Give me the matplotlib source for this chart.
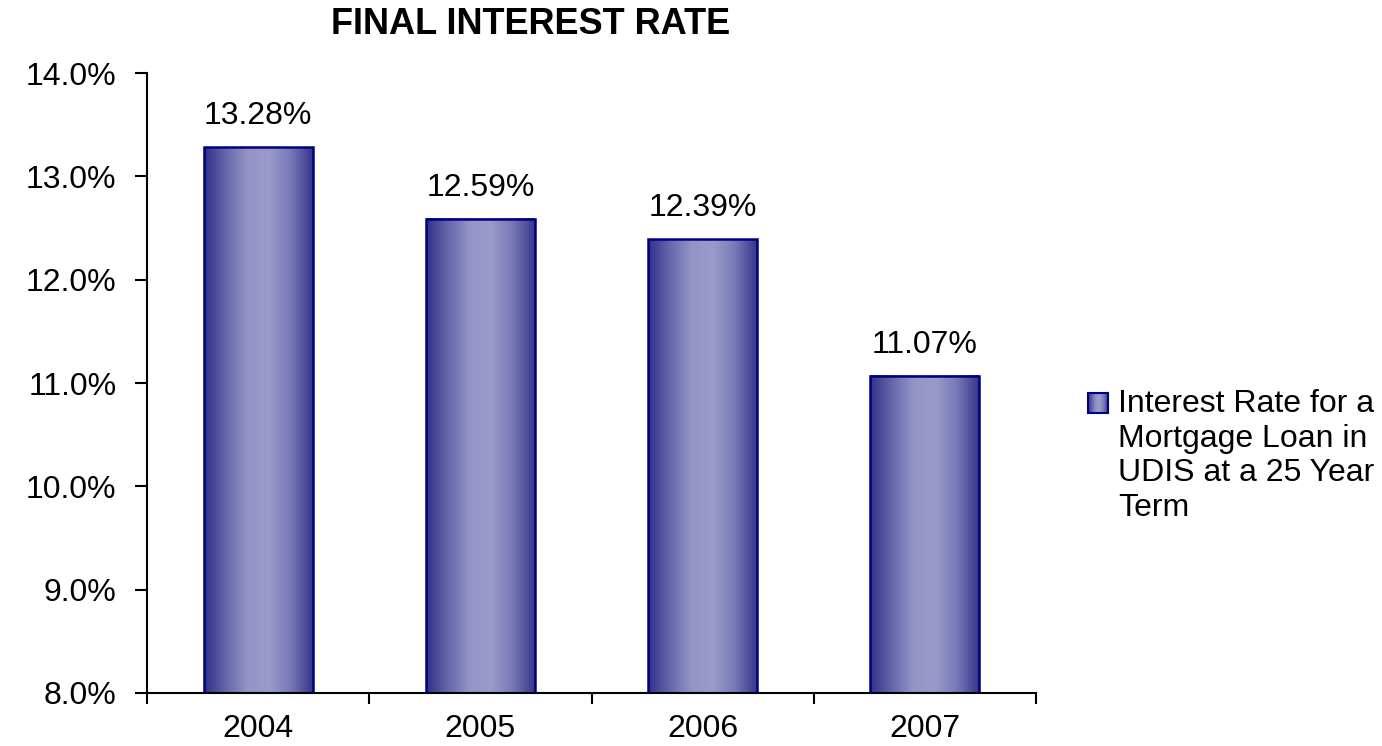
import numpy as np
import matplotlib
matplotlib.use("Agg")
import matplotlib.pyplot as plt
from matplotlib.colors import LinearSegmentedColormap

# ---- data ----
years = ["2004", "2005", "2006", "2007"]
rates = [13.28, 12.59, 12.39, 11.07]
value_labels = ["13.28%", "12.59%", "12.39%", "11.07%"]
series_name = "Interest Rate for a\nMortgage Loan in\nUDIS at a 25 Year\nTerm"
title = "FINAL INTEREST RATE"
y_ticks = [8.0, 9.0, 10.0, 11.0, 12.0, 13.0, 14.0]

plt.rcParams['font.family'] = ['Liberation Sans', 'DejaVu Sans']

W, H = 1382, 746
FS = 23
fig = plt.figure(figsize=(W / 100, H / 100), dpi=100)
ax = fig.add_axes([147 / W, 1 - 693 / H, (1036 - 147) / W, (693 - 73) / H])

grad_cmap = LinearSegmentedColormap.from_list(
    "bargrad", ["#30308a", "#6666ac", "#9494c7", "#9a9acb", "#7878b6", "#36368c"])
gradient = np.linspace(0, 1, 256).reshape(1, -1)

x = np.arange(len(years))
bars = ax.bar(x, rates, width=0.49, color="none", edgecolor="#000080",
              linewidth=1.8, zorder=3)
ax.set_xlim(-0.5, len(years) - 0.5)
ax.set_ylim(y_ticks[0], y_ticks[-1])
ax.set_autoscale_on(False)

for b in bars:
    x0 = b.get_x()
    x1 = x0 + b.get_width()
    h = b.get_height()
    ax.imshow(gradient, extent=[x0, x1, y_ticks[0], h], aspect="auto",
              cmap=grad_cmap, zorder=2, interpolation="bilinear")

for xi, r, lab in zip(x, rates, value_labels):
    ax.annotate(lab, (xi, r), xytext=(0, 16.5), textcoords="offset points",
                ha="center", va="baseline", fontsize=FS, color="black")

# axes styling
for s in ["top", "right"]:
    ax.spines[s].set_visible(False)
for s in ["left", "bottom"]:
    ax.spines[s].set_linewidth(1.5)
    ax.spines[s].set_color("black")

ax.set_yticks(y_ticks)
ax.set_yticklabels([f"{t:.1f}%" for t in y_ticks], fontsize=FS)
ax.tick_params(axis="y", direction="out", length=9, width=1.5, pad=13)

ax.set_xticks(x)
ax.set_xticklabels(years, fontsize=FS)
ax.set_xticks(np.arange(len(years) + 1) - 0.5, minor=True)
ax.tick_params(axis="x", which="major", length=0, pad=15)
ax.tick_params(axis="x", which="minor", direction="out", length=8, width=1.5)

# title
fig.text(531 / W, 1 - 24 / H, title, ha="center", va="center",
         fontsize=26, fontweight="bold")

# legend (manual, with gradient swatch)
lax = fig.add_axes([1088 / W, 1 - 413 / H, 20 / W, 20 / H])
lax.imshow(gradient, extent=[0, 1, 0, 1], aspect="auto", cmap=grad_cmap,
           interpolation="bilinear")
lax.set_xticks([])
lax.set_yticks([])
for s in lax.spines.values():
    s.set_color("#000080")
    s.set_linewidth(1.5)

fig.text(1118 / W, 1 - 389 / H, series_name, ha="left", va="top",
         fontsize=FS, linespacing=1.2)

fig.savefig("out.png", dpi=100)
